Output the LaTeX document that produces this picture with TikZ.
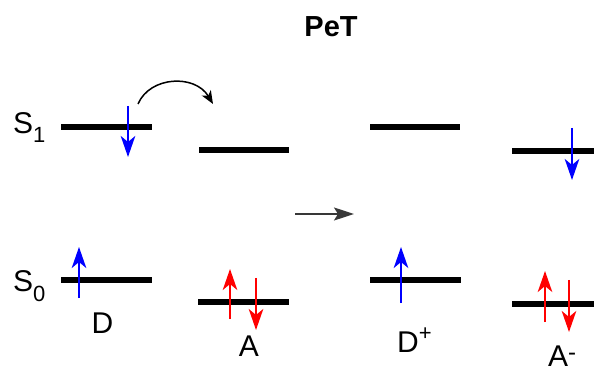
\documentclass[tikz,border=0pt]{standalone}
\usepackage{fontspec}
\setmainfont{Liberation Sans}
\usetikzlibrary{arrows.meta}
\begin{document}
\begin{tikzpicture}[x=1pt,y=-1pt,
  level/.style={line width=6.5pt},
  spin/.style={line width=2.3pt,-{Stealth[length=21pt,width=14.5pt,inset=6pt]}},
  lbl/.style={inner sep=0pt,font=\fontsize{30}{30}\selectfont},
]
\useasboundingbox (0,0) rectangle (594,371);
% title
\node[inner sep=0pt,anchor=base,font=\fontsize{29}{29}\selectfont\bfseries] (title) at (331,37) {PeT};
% state labels
\node[lbl,anchor=base west] (s1) at (13,134) {S\raisebox{-9pt}{\fontsize{22}{22}\selectfont 1}};
\node[lbl,anchor=base west] (s0) at (13,291) {S\raisebox{-10pt}{\fontsize{22}{22}\selectfont 0}};
% levels
\coordinate (dS1a) at (61,127); \coordinate (dS1b) at (152,127);
\coordinate (aS1a) at (199,150); \coordinate (aS1b) at (289,150);
\coordinate (dS0a) at (61,280); \coordinate (dS0b) at (152,280);
\coordinate (aS0a) at (198,302); \coordinate (aS0b) at (289,302);
\coordinate (pS1a) at (370,127); \coordinate (pS1b) at (460,127);
\coordinate (pS0a) at (370,280); \coordinate (pS0b) at (461,280);
\coordinate (mS1a) at (512,151); \coordinate (mS1b) at (594,151);
\coordinate (mS0a) at (512,304); \coordinate (mS0b) at (594,304);
\foreach \l in {dS1,aS1,dS0,aS0,pS1,pS0,mS1,mS0}
  \draw[level] (\l a) -- (\l b);
% spins
\coordinate (e1s) at (128,106); \coordinate (e1e) at (128,157);
\draw[spin,blue] (e1s) -- (e1e);
\coordinate (e2s) at (79,298); \coordinate (e2e) at (79,247);
\draw[spin,blue] (e2s) -- (e2e);
\coordinate (e3s) at (230,319); \coordinate (e3e) at (230,269);
\draw[spin,red] (e3s) -- (e3e);
\coordinate (e4s) at (256,278); \coordinate (e4e) at (256,330);
\draw[spin,red] (e4s) -- (e4e);
\coordinate (e5s) at (401,303); \coordinate (e5e) at (401,247);
\draw[spin,blue] (e5s) -- (e5e);
\coordinate (e6s) at (572,128); \coordinate (e6e) at (572,180);
\draw[spin,blue] (e6s) -- (e6e);
\coordinate (e7s) at (545,322); \coordinate (e7e) at (545,271);
\draw[spin,red] (e7s) -- (e7e);
\coordinate (e8s) at (569,280); \coordinate (e8e) at (569,332);
\draw[spin,red] (e8s) -- (e8e);
% curved transfer arrow
\coordinate (cs) at (138,104); \coordinate (ce) at (213,104);
\draw[line width=1.5pt,-{Stealth[length=13pt,width=10.5pt,inset=3.5pt]}] (cs) .. controls (150,76) and (195,74) .. (ce);
% reaction arrow
\coordinate (rs) at (295,214); \coordinate (re) at (354,214);
\draw[line width=1.6pt,color=black!78,-{Stealth[length=20pt,width=13pt,inset=4pt]}] (rs) -- (re);
% species labels
\node[lbl,anchor=base] (D) at (102.5,333) {D};
\node[lbl,anchor=base] (A) at (249,356) {A};
\node[lbl,anchor=base west] (Dp) at (397,352) {D\raisebox{12pt}{\fontsize{22}{22}\selectfont +}};
\node[lbl,anchor=base west] (Am) at (548,366) {A\raisebox{6pt}{\fontsize{24}{24}\selectfont -}};
\end{tikzpicture}
\end{document}
